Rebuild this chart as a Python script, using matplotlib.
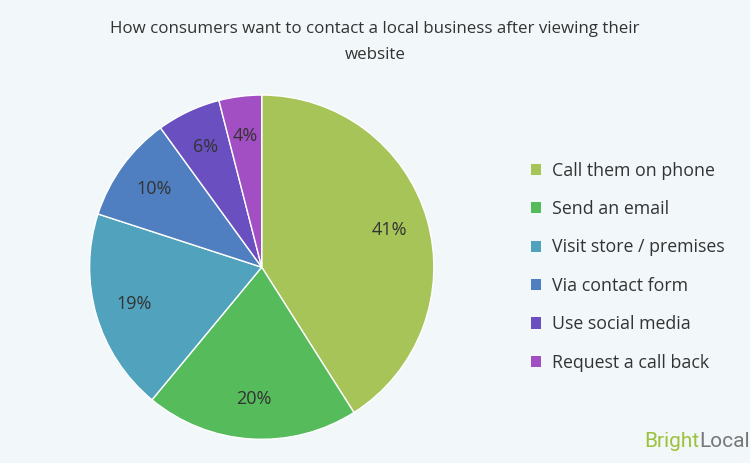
import matplotlib
matplotlib.use("Agg")
import matplotlib.pyplot as plt
from matplotlib.patches import Patch

categories = ["Call them on phone", "Send an email", "Visit store / premises",
              "Via contact form", "Use social media", "Request a call back"]
values = [41, 20, 19, 10, 6, 4]
colors = ["#a6c458", "#56bb5b", "#50a2bd", "#4f7fc0", "#6a4fc0", "#a14fc2"]
bg = "#f2f7fa"
plt.rcParams["font.family"] = "Open Sans"

fig = plt.figure(figsize=(7.5, 4.63), dpi=100, facecolor=bg)
fig.text(0.5, 0.909, "How consumers want to contact a local business after viewing their\nwebsite",
         ha="center", va="center", fontsize=12.2, color="#333333", linespacing=1.85)
ax = fig.add_axes([0.349 - 0.2307, 0.423 - 0.3737, 0.4613, 0.7473])
ax.set_facecolor(bg)
wedges, texts, autotexts = ax.pie(values, colors=colors, startangle=90, counterclock=False,
       autopct="%d%%", pctdistance=0.77,
       wedgeprops=dict(edgecolor="white", linewidth=1),
       textprops=dict(fontsize=13, color="#333333"))
ax.set_xlim(-1.005, 1.005)
ax.set_ylim(-1.005, 1.005)
ax.set_aspect("equal")
ax.axis("off")
handles = [Patch(facecolor=c, edgecolor="none") for c in colors]
fig.legend(handles, categories, loc="center left", bbox_to_anchor=(0.686, 0.424),
           frameon=False, fontsize=12.8, labelcolor="#333333", handlelength=0.6,
           handleheight=0.6, labelspacing=1.15, handletextpad=0.6)
fig.text(0.932, 0.047, "Bright", color="#9cc13b", fontsize=15, ha="right", va="center",
         family="Roboto")
fig.text(0.932, 0.047, "Local", color="#777777", fontsize=15, ha="left", va="center",
         family="Roboto")
fig.savefig("out.png", dpi=100, facecolor=bg)
